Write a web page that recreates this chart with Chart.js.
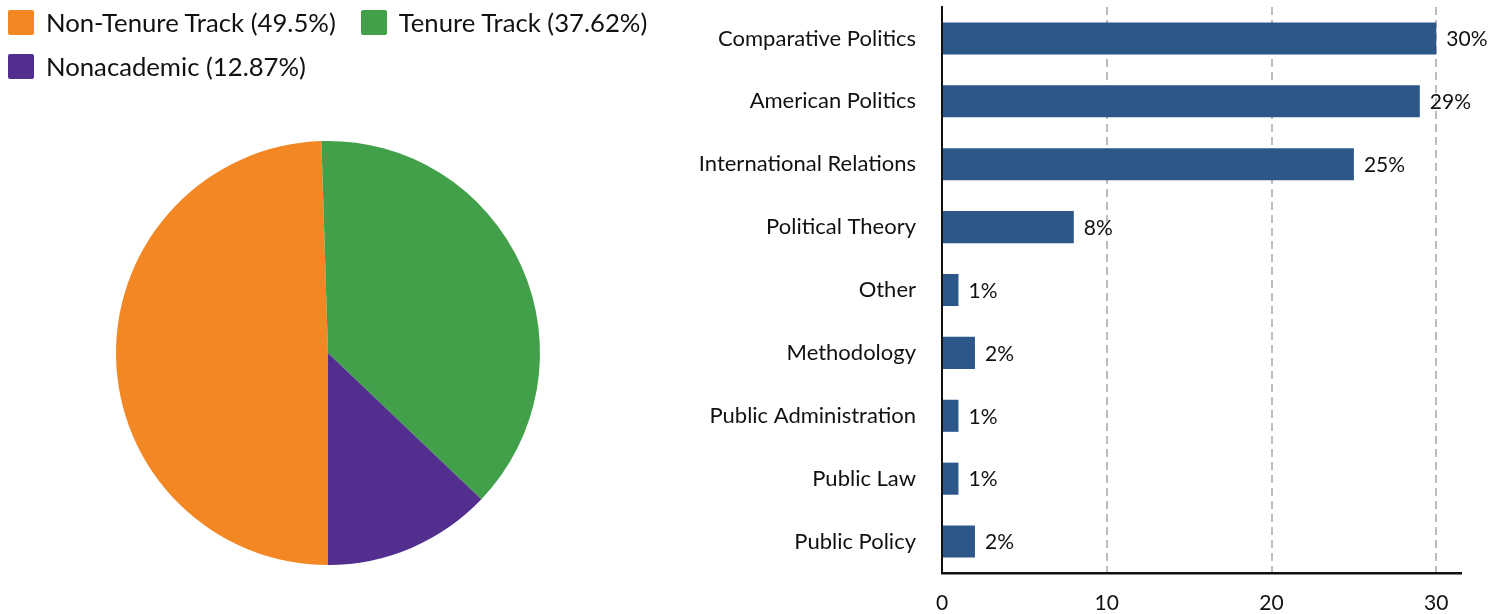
<!DOCTYPE html>
<html>
<head>
<meta charset="utf-8">
<script src="https://cdn.jsdelivr.net/npm/chart.js@4.4.1/dist/chart.umd.min.js"></script>
<style>
  html, body { margin: 0; padding: 0; background: #fff; overflow: hidden; }
  body { width: 1502px; height: 614px; position: relative; font-family: Lato, 'Open Sans', sans-serif; }
  #pieBox { position: absolute; left: 0px; top: 0px; width: 656px; height: 614px; }
  #barBox { position: absolute; left: 660px; top: 0px; width: 842px; height: 614px; }
  #legend { position: absolute; left: 8px; top: 10px; width: 680px; display: flex; flex-wrap: wrap; row-gap: 18.5px; }
  .li { display: inline-flex; align-items: center; margin-right: 25px; height: 25px; }
  .lb { width: 26px; height: 25px; border-radius: 2px; margin-right: 12px; flex: none; }
  .lt { font-size: 25.7px; line-height: 25px; color: #111; white-space: nowrap; }
</style>
</head>
<body>
<div id="pieBox"><canvas id="pie"></canvas></div>
<div id="legend"></div>
<div id="barBox"><canvas id="bar"></canvas></div>
<script>
// ---- data ----
const pieLabels = ["Non-Tenure Track", "Tenure Track", "Nonacademic"];
const pieValues = [49.5, 37.62, 12.87];
const pieColors = ["#F28724", "#43A04A", "#522E8E"];

const barCategories = ["Comparative Politics", "American Politics", "International Relations",
  "Political Theory", "Other", "Methodology", "Public Administration", "Public Law", "Public Policy"];
const barValues = [30, 29, 25, 8, 1, 2, 1, 1, 2];
const barColor = "#2D5789";
const xTicks = [0, 10, 20, 30];

const FONT = "Lato, 'Open Sans', sans-serif";
Chart.defaults.font.family = FONT;
Chart.defaults.color = "#111";

// ---- pie ----
const pieChart = new Chart(document.getElementById("pie"), {
  type: "pie",
  data: {
    labels: pieLabels.map((l, i) => `${l} (${pieValues[i]}%)`),
    datasets: [{ data: pieValues, backgroundColor: pieColors, borderWidth: 0 }]
  },
  options: {
    responsive: true,
    maintainAspectRatio: false,
    animation: false,
    rotation: 180,
    radius: 212,
    layout: { padding: { top: 92, bottom: 0, left: 0, right: 0 } },
    plugins: { tooltip: { enabled: false }, legend: { display: false } }
  }
});

// HTML legend built from the chart's own legend items
(function buildLegend(chart) {
  const box = document.getElementById("legend");
  const items = chart.options.plugins.legend.labels.generateLabels(chart);
  items.forEach(it => {
    const li = document.createElement("div"); li.className = "li";
    const b = document.createElement("span"); b.className = "lb"; b.style.background = it.fillStyle;
    const t = document.createElement("span"); t.className = "lt"; t.textContent = it.text;
    li.appendChild(b); li.appendChild(t); box.appendChild(li);
  });
})(pieChart);

// ---- bar ----
const valueLabels = {
  id: "valueLabels",
  afterDatasetsDraw(chart) {
    const ctx = chart.ctx;
    const meta = chart.getDatasetMeta(0);
    ctx.save();
    ctx.font = `21px ${FONT}`;
    ctx.fillStyle = "#111";
    ctx.textAlign = "left";
    ctx.textBaseline = "middle";
    meta.data.forEach((el, i) => {
      ctx.fillText(barValues[i] + "%", el.x + 10, el.y + 1);
    });
    ctx.restore();
  }
};

new Chart(document.getElementById("bar"), {
  type: "bar",
  data: {
    labels: barCategories,
    datasets: [{ data: barValues, backgroundColor: barColor, borderWidth: 0,
      barPercentage: 0.51, categoryPercentage: 1 }]
  },
  options: {
    indexAxis: "y",
    responsive: true,
    maintainAspectRatio: false,
    animation: false,
    layout: { padding: { top: 7, right: 41, left: 0, bottom: 0 } },
    plugins: { legend: { display: false }, tooltip: { enabled: false } },
    scales: {
      x: {
        min: 0,
        max: 31.5,
        afterBuildTicks(scale) { scale.ticks = xTicks.map(v => ({ value: v })); },
        afterFit(scale) { scale.height = 41; },
        ticks: { font: { size: 21 }, color: "#111", padding: 18 },
        grid: {
          drawTicks: false,
          color: (c) => c.tick && c.tick.value === 0 ? "rgba(0,0,0,0)" : "#BDBDBD",
          lineWidth: 2
        },
        border: { display: true, color: "#111", width: 2.5, dash: [8, 5] }
      },
      y: {
        afterFit(scale) { scale.width = 282; scale.paddingTop = 0; scale.paddingBottom = 0; },
        ticks: { font: { size: 22 }, color: "#111", padding: 26 },
        grid: { display: false, drawTicks: false },
        border: { display: true, color: "#111", width: 2 }
      }
    }
  },
  plugins: [valueLabels]
});
</script>
</body>
</html>
